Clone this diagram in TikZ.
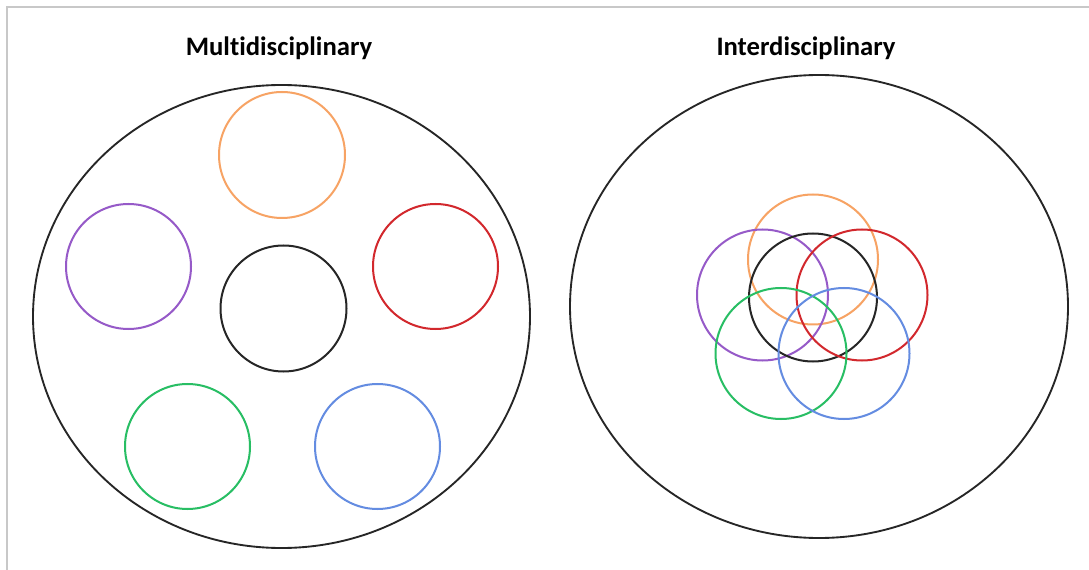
\documentclass[tikz,border=0pt]{standalone}
\usepackage{fontspec}
\setmainfont[Ligatures=NoCommon]{Carlito}
\definecolor{corange}{RGB}{247,163,100}
\definecolor{cpurple}{RGB}{150,90,200}
\definecolor{cred}{RGB}{210,40,45}
\definecolor{cgreen}{RGB}{40,190,100}
\definecolor{cblue}{RGB}{100,140,225}
\definecolor{cframe}{RGB}{200,200,200}
\begin{document}
\begin{tikzpicture}[x=0.75pt,y=-0.75pt,
  big/.style={draw=black!85,line width=1.4pt},
  disc/.style={line width=1.5pt},
  title/.style={font=\bfseries\fontsize{20}{24}\selectfont,anchor=base}]
\useasboundingbox (0,0) rectangle (1089,570);
\fill[white] (0,0) rectangle (1089,570);
\coordinate (tl) at (7,7);
\coordinate (tr) at (1089,7);
\coordinate (bl) at (7,570);
\draw[cframe,line width=0.9pt] (bl) -- (tl) -- (tr);
\node[title] (t1) at (279,56) {Multidisciplinary};
\node[title] (t2) at (806,56) {Interdisciplinary};
% left
\draw[big] (281.5,316.5) ellipse [x radius=248.5, y radius=231.5];
\draw[disc,corange] (282,155) circle [radius=63];
\draw[disc,cpurple] (128.5,266.5) circle [radius=62.5];
\draw[disc,cred] (435.5,266.5) circle [radius=62.5];
\draw[disc,black!85] (283.5,308.5) circle [radius=63];
\draw[disc,cgreen] (187.5,446.5) circle [radius=62.5];
\draw[disc,cblue] (377.5,446.5) circle [radius=62.5];
% right
\draw[big] (819,306.5) ellipse [x radius=249, y radius=231.5];
\draw[disc,corange] (813,259.5) circle [radius=65];
\draw[disc,cpurple] (762.5,295) circle [radius=65.5];
\draw[disc,black!85] (813,297.5) circle [radius=64];
\draw[disc,cred] (862,295) circle [radius=65.5];
\draw[disc,cgreen] (781,353.5) circle [radius=65.5];
\draw[disc,cblue] (844,353.5) circle [radius=65.5];
\end{tikzpicture}
\end{document}
